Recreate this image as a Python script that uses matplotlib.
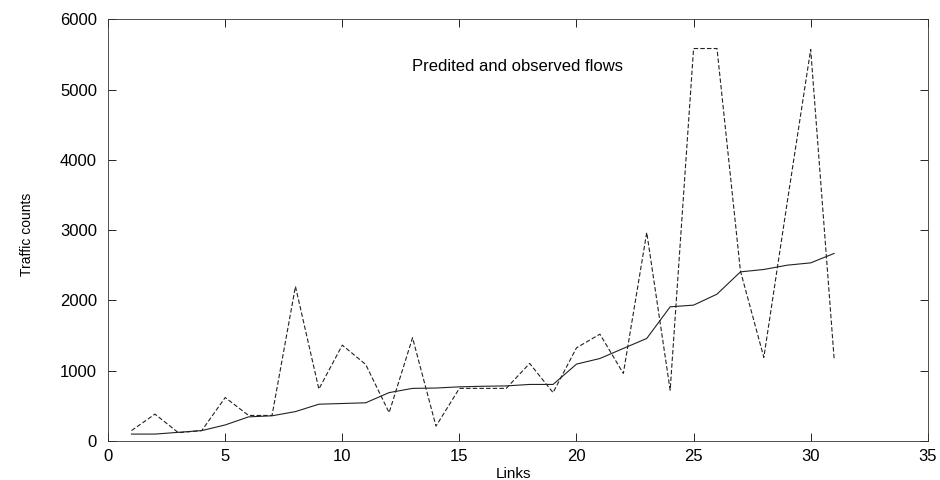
import matplotlib
matplotlib.use("Agg")
import matplotlib.pyplot as plt

links = list(range(1, 32))
predicted = [100, 100, 125, 150, 230, 345, 360, 420, 525, 535, 545, 690, 750, 755, 772,
             780, 785, 806, 806, 1095, 1175, 1318, 1460, 1910, 1934, 2090, 2407, 2441, 2502,
             2535, 2669]
observed = [150, 384, 120, 150, 620, 365, 365, 2200, 740, 1365, 1090, 405, 1470, 213, 750,
            750, 750, 1105, 690, 1327, 1521, 962, 2967, 725, 5583, 5583, 2420, 1190, 3400,
            5570, 1176]

plt.rcParams['font.family'] = ['Liberation Sans', 'DejaVu Sans']

fig = plt.figure(figsize=(9.4, 4.8), dpi=100)
ax = fig.add_axes([0.115, 0.081, 0.872, 0.879])

ax.plot(links, predicted, color="#222222", linewidth=0.8)
ax.plot(links, observed, color="#222222", linewidth=0.8, linestyle=(0, (4, 2)))

ax.set_xlim(0, 35)
ax.set_ylim(0, 6000)
ax.set_xticks(range(0, 36, 5))
ax.set_yticks(range(0, 6001, 1000))
ax.tick_params(direction="in", top=True, right=True, labelsize=12, length=6, width=0.6)
ax.tick_params(axis="y", pad=8)
ax.tick_params(axis="x", pad=6)
for s in ax.spines.values():
    s.set_linewidth(0.6)
    s.set_color("#333333")

ax.set_xlabel("Links", fontsize=11)
ax.set_ylabel("Traffic counts", fontsize=10)
ax.xaxis.set_label_coords(0.494, -0.078, transform=ax.transAxes)
ax.yaxis.set_label_coords(-0.099, 0.49, transform=ax.transAxes)
ax.xaxis.label.set_va("center")
ax.yaxis.label.set_va("center")
ax.text(17.46, 5330, "Predited and observed flows", fontsize=12, ha="center", va="center")

fig.savefig("out.png", dpi=100)
